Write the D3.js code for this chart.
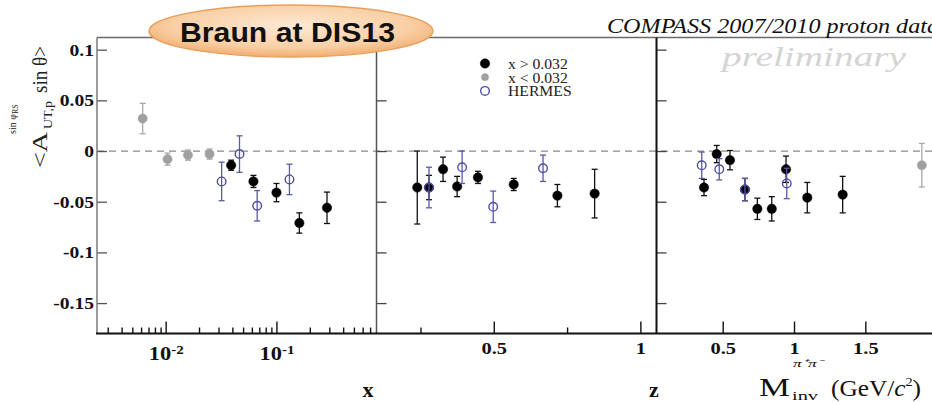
<!DOCTYPE html>
<html><head><meta charset="utf-8">
<script src="https://cdn.jsdelivr.net/npm/d3@7"></script>
<style>
body{margin:0;background:#fff}
svg{display:block}
</style>
</head><body>
<svg id="chart" width="932" height="402"></svg>
<script>
// ---- asymmetry vs x ----
const xHighX = [0.039, 0.062, 0.100, 0.161, 0.286];
const xHighA = [-0.014, -0.030, -0.041, -0.071, -0.056];
const xHighE = [0.005, 0.006, 0.009, 0.010, 0.0155];
const xLowX  = [0.0062, 0.0104, 0.0159, 0.0249];
const xLowA  = [0.032, -0.008, -0.004, -0.003];
const xLowE  = [0.015, 0.006, 0.005, 0.005];
const xHermX = [0.032, 0.0464, 0.067, 0.131];
const xHermA = [-0.030, -0.003, -0.054, -0.028];
const xHermE = [0.019, 0.018, 0.015, 0.015];

// ---- asymmetry vs z ----
const zHighZ = [0.239, 0.279, 0.327, 0.375, 0.446, 0.568, 0.717, 0.844];
const zHighA = [-0.036, -0.036, -0.018, -0.035, -0.026, -0.033, -0.044, -0.042];
const zHighE = [0.036, 0.012, 0.012, 0.010, 0.006, 0.006, 0.011, 0.024];
const zHermZ = [0.279, 0.392, 0.498, 0.668];
const zHermA = [-0.036, -0.016, -0.055, -0.017];
const zHermE = [0.020, 0.016, 0.0155, 0.013];

// ---- asymmetry vs invariant mass ----
const mHighM = [0.369, 0.458, 0.551, 0.656, 0.743, 0.844, 0.944, 1.093, 1.341];
const mHighA = [-0.036, -0.003, -0.009, -0.038, -0.057, -0.057, -0.018, -0.046, -0.043];
const mHighE = [0.008, 0.0085, 0.0095, 0.011, 0.0105, 0.012, 0.013, 0.015, 0.018];
const mLowM  = [1.896];
const mLowA  = [-0.014];
const mLowE  = [0.0215];
const mHermM = [0.353, 0.476, 0.656, 0.949];
const mHermA = [-0.014, -0.018, -0.038, -0.032];
const mHermE = [0.013, 0.0105, 0.011, 0.015];

// ---- ticks and labels ----
const yTicks = [-0.15, -0.1, -0.05, 0, 0.05, 0.1];
const xMajorTicks = [0.01, 0.1];
const zMajorTicks = [0.5, 1];
const zMinorTicks = [0.25, 0.75];
const mMajorTicks = [0.5, 1, 1.5, 2];
const legendLabels = ["x > 0.032", "x < 0.032", "HERMES"];

const svg = d3.select("#chart");
const SERIF = '"Liberation Serif","Times New Roman",serif';
const SANS = '"Liberation Sans",Arial,sans-serif';

// widen text glyphs (the figure is drawn wide)
function stretch(sel, k) {
  sel.each(function () {
    const w = this.getComputedTextLength();
    this.setAttribute("textLength", w * k);
    this.setAttribute("lengthAdjust", "spacingAndGlyphs");
  });
}

// ---- scales ----
const frameTop = 37.5, frameBottom = 333.5;
const p1 = [97, 376.5], p2 = [376.5, 656.5], p3 = [656.5, 1008];
const y = d3.scaleLinear().domain([-0.18, 0.112]).range([frameBottom, frameTop]);
const sx = d3.scaleLog().domain([0.0024, 0.8]).range(p1);
const sz = d3.scaleLinear().domain([0.1, 1.055]).range(p2);
const sm = d3.scaleLinear().domain([0.036, 2.5]).range(p3);

// ---- zero line ----
svg.append("line")
  .attr("x1", p1[0]).attr("x2", 932).attr("y1", y(0)).attr("y2", y(0))
  .attr("stroke", "#8a8a8a").attr("stroke-width", 1.3).attr("stroke-dasharray", "7,5");

// ---- y axes on each panel (ticks inside) ----
const yAx1 = svg.append("g").attr("transform", `translate(${p1[0]},0)`)
  .call(d3.axisLeft(y).tickValues(yTicks).tickSize(-10).tickPadding(3)
    .tickFormat(v => String(+v.toFixed(2))));
yAx1.select(".domain").remove();
yAx1.selectAll("line").attr("stroke", "#555").attr("stroke-width", 1.3);
yAx1.selectAll("text").attr("font-family", SERIF).attr("font-weight", "bold")
  .attr("font-size", 17).attr("fill", "#111").call(stretch, 1.15);

[p2[0], p3[0]].forEach(px => {
  const g = svg.append("g").attr("transform", `translate(${px},0)`)
    .call(d3.axisLeft(y).tickValues(yTicks).tickSize(-10).tickFormat(""));
  g.select(".domain").remove();
  g.selectAll("line").attr("stroke", "#444").attr("stroke-width", 1.3);
});

// ---- bottom axes ----
function styleBottom(g) {
  g.select(".domain").remove();
  g.selectAll("line").attr("stroke", "#111").attr("stroke-width", 1.4);
  g.selectAll("text").attr("font-family", SERIF).attr("font-weight", "bold")
    .attr("font-size", 17).attr("fill", "#111");
}

// log x: minor ticks
const xMinor = [];
[0.001, 0.01, 0.1].forEach(d => {
  for (let k = 2; k <= 9; k++) {
    const v = d * k;
    if (v > sx.domain()[0] && v < sx.domain()[1]) xMinor.push(v);
  }
});
const gxm = svg.append("g").attr("transform", `translate(0,${frameBottom})`)
  .call(d3.axisBottom(sx).tickValues(xMinor).tickSize(-6).tickFormat(""));
styleBottom(gxm);
const gx = svg.append("g").attr("transform", `translate(0,${frameBottom})`)
  .call(d3.axisBottom(sx).tickValues(xMajorTicks).tickSize(-12).tickPadding(14).tickFormat(""));
styleBottom(gx);
gx.selectAll(".tick text").each(function (d) {
  const t = d3.select(this).attr("text-anchor", "middle").attr("font-size", 18);
  t.append("tspan").text("10");
  t.append("tspan").attr("font-size", 12).attr("dy", "-0.5em")
    .text(String(Math.round(Math.log10(d))));
}).call(stretch, 1.25);

// z axis
const gzm = svg.append("g").attr("transform", `translate(0,${frameBottom})`)
  .call(d3.axisBottom(sz).tickValues(zMinorTicks).tickSize(-6).tickFormat(""));
styleBottom(gzm);
const gz = svg.append("g").attr("transform", `translate(0,${frameBottom})`)
  .call(d3.axisBottom(sz).tickValues(zMajorTicks).tickSize(-12).tickPadding(8).tickFormat(d => String(d)));
styleBottom(gz);
gz.selectAll("text").call(stretch, 1.2);

// mass axis
const gm = svg.append("g").attr("transform", `translate(0,${frameBottom})`)
  .call(d3.axisBottom(sm).tickValues(mMajorTicks).tickSize(-12).tickPadding(8).tickFormat(d => String(d)));
styleBottom(gm);
gm.selectAll("text").call(stretch, 1.2);

// ---- frame ----
const frame = svg.append("g");
frame.append("line").attr("x1", p1[0]).attr("x2", 932).attr("y1", frameTop).attr("y2", frameTop)
  .attr("stroke", "#6a6a6a").attr("stroke-width", 1.5);
frame.append("line").attr("x1", p1[0]).attr("x2", p1[0]).attr("y1", frameTop).attr("y2", frameBottom)
  .attr("stroke", "#7a7a7a").attr("stroke-width", 1.5);
frame.append("line").attr("x1", p2[0]).attr("x2", p2[0]).attr("y1", frameTop).attr("y2", frameBottom)
  .attr("stroke", "#555").attr("stroke-width", 1.5);
frame.append("line").attr("x1", p3[0]).attr("x2", p3[0]).attr("y1", frameTop).attr("y2", frameBottom)
  .attr("stroke", "#111").attr("stroke-width", 2);
frame.append("line").attr("x1", p1[0] - 1).attr("x2", 932).attr("y1", frameBottom).attr("y2", frameBottom)
  .attr("stroke", "#111").attr("stroke-width", 2);

// ---- data points with error bars ----
function series(scale, xs, as, es, style) {
  const g = svg.append("g");
  const rows = xs.map((v, i) => ({ x: scale(v), a: as[i], e: es[i] }));
  const cap = 3;
  rows.forEach(r => {
    g.append("line").attr("x1", r.x).attr("x2", r.x).attr("y1", y(r.a + r.e)).attr("y2", y(r.a - r.e))
      .attr("stroke", style.line).attr("stroke-width", 1.3);
    [r.a + r.e, r.a - r.e].forEach(v => g.append("line")
      .attr("x1", r.x - cap).attr("x2", r.x + cap).attr("y1", y(v)).attr("y2", y(v))
      .attr("stroke", style.line).attr("stroke-width", 1.3));
    g.append("circle").attr("cx", r.x).attr("cy", y(r.a)).attr("r", style.r)
      .attr("fill", style.fill).attr("stroke", style.stroke).attr("stroke-width", style.sw);
  });
}
const stBlack = { line: "#111", fill: "#000", stroke: "#000", sw: 0.5, r: 4.7 };
const stGray = { line: "#a8a8a8", fill: "#a0a0a0", stroke: "#a0a0a0", sw: 0.5, r: 4.6 };
const stHerm = { line: "#5a5aa8", fill: "none", stroke: "#4f4fa6", sw: 1.4, r: 4.3 };

series(sx, xLowX, xLowA, xLowE, stGray);
series(sx, xHighX, xHighA, xHighE, stBlack);
series(sx, xHermX, xHermA, xHermE, stHerm);
series(sz, zHighZ, zHighA, zHighE, stBlack);
series(sz, zHermZ, zHermA, zHermE, stHerm);
series(sm, mLowM, mLowA, mLowE, stGray);
series(sm, mHighM, mHighA, mHighE, stBlack);
series(sm, mHermM, mHermA, mHermE, stHerm);

// ---- legend ----
const leg = svg.append("g");
const legStyles = [stBlack, { ...stGray, r: 3.6 }, stHerm];
legendLabels.forEach((lab, i) => {
  const cy = 63.5 + i * 13.7;
  const s = legStyles[i];
  leg.append("circle").attr("cx", 485).attr("cy", cy).attr("r", s.r)
    .attr("fill", s.fill).attr("stroke", s.stroke).attr("stroke-width", s.sw);
  leg.append("text").attr("x", 508).attr("y", cy + 5.5).text(lab)
    .attr("font-family", SERIF).attr("font-size", 14).attr("fill", "#222")
    .call(stretch, 1.12);
});

// ---- titles ----
svg.append("text").attr("x", 607).attr("y", 33).text("COMPASS 2007/2010 proton data")
  .attr("font-family", SERIF).attr("font-style", "italic").attr("font-size", 20).attr("fill", "#111")
  .attr("textLength", 332).attr("lengthAdjust", "spacingAndGlyphs");
svg.append("text").attr("x", 722).attr("y", 66).text("preliminary")
  .attr("font-family", SERIF).attr("font-style", "italic").attr("font-size", 28).attr("fill", "#d4d4d4")
  .attr("textLength", 184).attr("lengthAdjust", "spacingAndGlyphs");

// ---- axis titles ----
svg.append("text").attr("x", 368).attr("y", 397).attr("text-anchor", "middle").text("x")
  .attr("font-family", SERIF).attr("font-weight", "bold").attr("font-size", 22).attr("fill", "#111");
svg.append("text").attr("x", 654).attr("y", 397).attr("text-anchor", "middle").text("z")
  .attr("font-family", SERIF).attr("font-weight", "bold").attr("font-size", 22).attr("fill", "#111");
const mt = svg.append("g").attr("font-family", SERIF).attr("fill", "#111");
mt.append("text").attr("x", 759).attr("y", 396).attr("font-size", 25).text("M")
  .attr("textLength", 31).attr("lengthAdjust", "spacingAndGlyphs");
mt.append("text").attr("x", 793).attr("y", 367).attr("font-size", 11).attr("font-style", "italic")
  .text("π⁺π⁻").attr("textLength", 30).attr("lengthAdjust", "spacingAndGlyphs");
mt.append("text").attr("x", 792).attr("y", 400).attr("font-size", 12).text("inv")
  .attr("textLength", 26).attr("lengthAdjust", "spacingAndGlyphs");
const gev = mt.append("text").attr("x", 831).attr("y", 396).attr("font-size", 23);
gev.append("tspan").text("(GeV/");
gev.append("tspan").attr("font-style", "italic").text("c");
gev.append("tspan").attr("font-size", 13).attr("dy", -10).text("2");
gev.append("tspan").attr("dy", 10).text(")");
stretch(gev, 1.1);

// y title (rotated)
const yt = svg.append("g").attr("transform", "translate(47,168) rotate(-90)")
  .attr("font-family", SERIF).attr("fill", "#222");
yt.append("text").attr("x", 0).attr("y", 0).attr("font-size", 20).text("<A")
  .attr("textLength", 36).attr("lengthAdjust", "spacingAndGlyphs");
yt.append("text").attr("x", 39).attr("y", 5).attr("font-size", 12).text("UT,p")
  .attr("textLength", 28).attr("lengthAdjust", "spacingAndGlyphs");
const sup = yt.append("text").attr("x", 34).attr("y", -31).attr("font-size", 10);
sup.append("tspan").text("sin φ");
sup.append("tspan").attr("font-size", 8).attr("dy", 2).text("RS");
yt.append("text").attr("x", 75).attr("y", 0).attr("font-size", 20).text("sin θ>")
  .attr("textLength", 47).attr("lengthAdjust", "spacingAndGlyphs");

// ---- badge ----
const defs = svg.append("defs");
const grad = defs.append("radialGradient").attr("id", "badge").attr("cx", "50%").attr("cy", "40%").attr("r", "60%");
grad.append("stop").attr("offset", "0%").attr("stop-color", "#fde9d4");
grad.append("stop").attr("offset", "70%").attr("stop-color", "#f9cfa4");
grad.append("stop").attr("offset", "100%").attr("stop-color", "#f1ae72");
svg.append("ellipse").attr("cx", 291).attr("cy", 31).attr("rx", 142).attr("ry", 26)
  .attr("fill", "url(#badge)").attr("stroke", "#e8a05c").attr("stroke-width", 1.5);
svg.append("text").attr("x", 180).attr("y", 42).text("Braun at DIS13")
  .attr("font-family", SANS).attr("font-weight", "bold").attr("font-size", 27).attr("fill", "#111")
  .attr("textLength", 215).attr("lengthAdjust", "spacingAndGlyphs");
</script>
</body></html>
